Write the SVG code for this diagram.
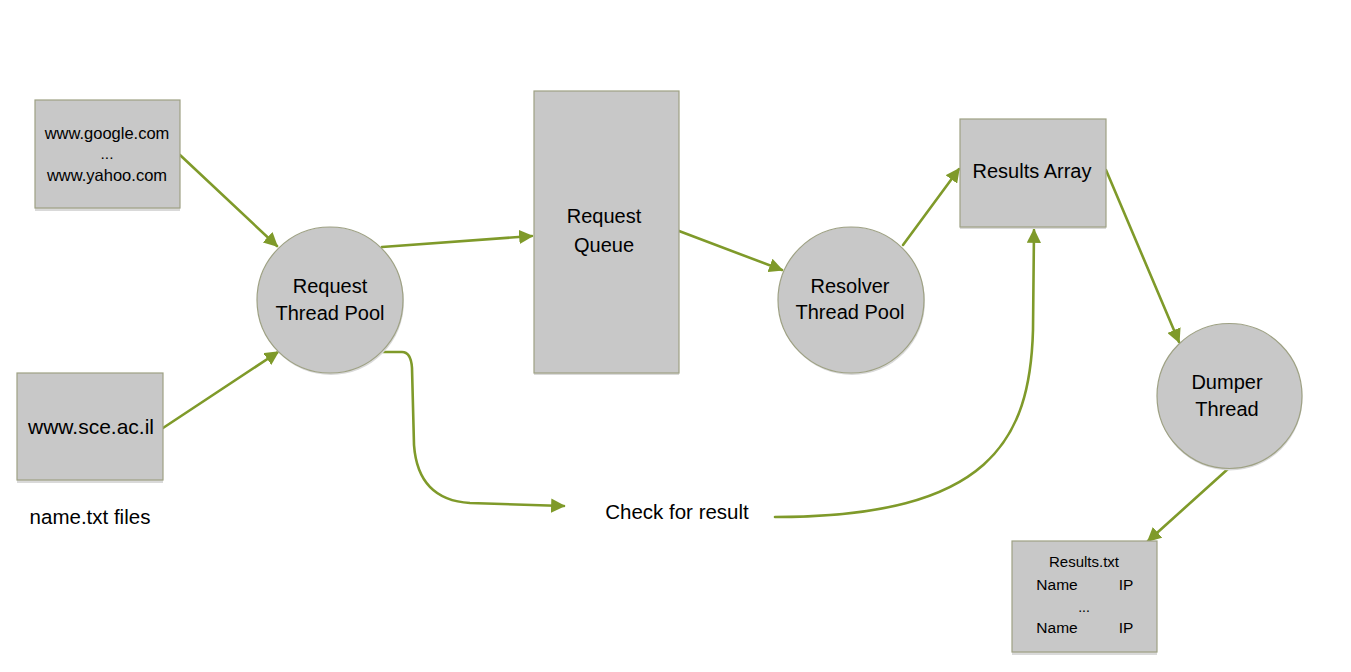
<svg xmlns="http://www.w3.org/2000/svg" width="1351" height="672" viewBox="0 0 1351 672">
<style>
.shape{fill:#c8c8c8;stroke:#9ea184;stroke-width:1.2}
.shadow{fill:#d9d9d9;stroke:none}
.lbl{font-family:"Liberation Sans",Arial,sans-serif;fill:#000;text-anchor:middle}
.conn{fill:none;stroke:#7f9a2a;stroke-width:2.6;stroke-linecap:round}
</style>
<defs>
<marker id="arr" viewBox="0 0 10 10" refX="9" refY="5" markerWidth="5.5" markerHeight="5.5" orient="auto" markerUnits="strokeWidth">
<path d="M0,0 L10,5 L0,10 z" fill="#7f9a2a"/>
</marker>
</defs>
<rect width="1351" height="672" fill="#fff"/>

<g id="connectors">
<path class="conn" d="M180,155 L277,246" marker-end="url(#arr)"/>
<path class="conn" d="M163,428 L278,352" marker-end="url(#arr)"/>
<path class="conn" d="M382,247 L532,236" marker-end="url(#arr)"/>
<path class="conn" d="M679,231 L782,270" marker-end="url(#arr)"/>
<path class="conn" d="M903,245 L959,169" marker-end="url(#arr)"/>
<path class="conn" d="M1106,170 L1179,342" marker-end="url(#arr)"/>
<path class="conn" d="M1229,468 L1148,541" marker-end="url(#arr)"/>
<path class="conn" d="M383,352 L402,352 Q411,352 412,368 L414,445 Q418,500 470,503 L564,506" marker-end="url(#arr)"/>
<path class="conn" d="M775,517 C990,517 1030,440 1033,330 L1034,230" marker-end="url(#arr)"/>
</g>

<g id="node-google">
<rect class="shadow" x="35" y="102" width="145" height="109"/>
<rect class="shape" x="35" y="100" width="145" height="108"/>
<text class="lbl" font-size="16.5" x="107" y="139">www.google.com</text>
<text class="lbl" font-size="15.5" x="107" y="159">...</text>
<text class="lbl" font-size="16.5" x="107" y="181">www.yahoo.com</text>
</g>

<g id="node-sce">
<rect class="shadow" x="17" y="375" width="146" height="108"/>
<rect class="shape" x="17" y="373" width="146" height="107"/>
<text class="lbl" font-size="21" x="91" y="434">www.sce.ac.il</text>
</g>

<text id="label-files" class="lbl" font-size="20.5" x="90" y="524">name.txt files</text>

<g id="node-request-pool">
<circle class="shadow" cx="331" cy="302" r="73"/>
<circle class="shape" cx="330" cy="300" r="73"/>
<text class="lbl" font-size="20" x="330" y="293">Request</text>
<text class="lbl" font-size="20" x="330" y="320">Thread Pool</text>
</g>

<g id="node-request-queue">
<rect class="shadow" x="534" y="93" width="145" height="282"/>
<rect class="shape" x="534" y="91" width="145" height="282"/>
<text class="lbl" font-size="20" x="604" y="223">Request</text>
<text class="lbl" font-size="20" x="604" y="252">Queue</text>
</g>

<g id="node-resolver-pool">
<circle class="shadow" cx="852" cy="302" r="73"/>
<circle class="shape" cx="851" cy="300" r="73"/>
<text class="lbl" font-size="20" x="850" y="293">Resolver</text>
<text class="lbl" font-size="20" x="850" y="319">Thread Pool</text>
</g>

<g id="node-results-array">
<rect class="shadow" x="960" y="121" width="146" height="108"/>
<rect class="shape" x="960" y="119" width="146" height="108"/>
<text class="lbl" font-size="20" x="1032" y="178">Results Array</text>
</g>

<g id="node-dumper">
<circle class="shadow" cx="1230" cy="398" r="72.5"/>
<circle class="shape" cx="1229.5" cy="396" r="72.5"/>
<text class="lbl" font-size="20" x="1227" y="389">Dumper</text>
<text class="lbl" font-size="20" x="1227" y="416">Thread</text>
</g>

<g id="node-results-txt">
<rect class="shadow" x="1012" y="543" width="145" height="112"/>
<rect class="shape" x="1012" y="541" width="145" height="111"/>
<text class="lbl" font-size="15" x="1084" y="567">Results.txt</text>
<text class="lbl" font-size="15.5" x="1057" y="590">Name</text>
<text class="lbl" font-size="15.5" x="1126" y="590">IP</text>
<text class="lbl" font-size="14" x="1084" y="612">...</text>
<text class="lbl" font-size="15.5" x="1057" y="633">Name</text>
<text class="lbl" font-size="15.5" x="1126" y="633">IP</text>
</g>

<text id="label-check" class="lbl" font-size="20.5" x="677" y="519">Check for result</text>
</svg>
